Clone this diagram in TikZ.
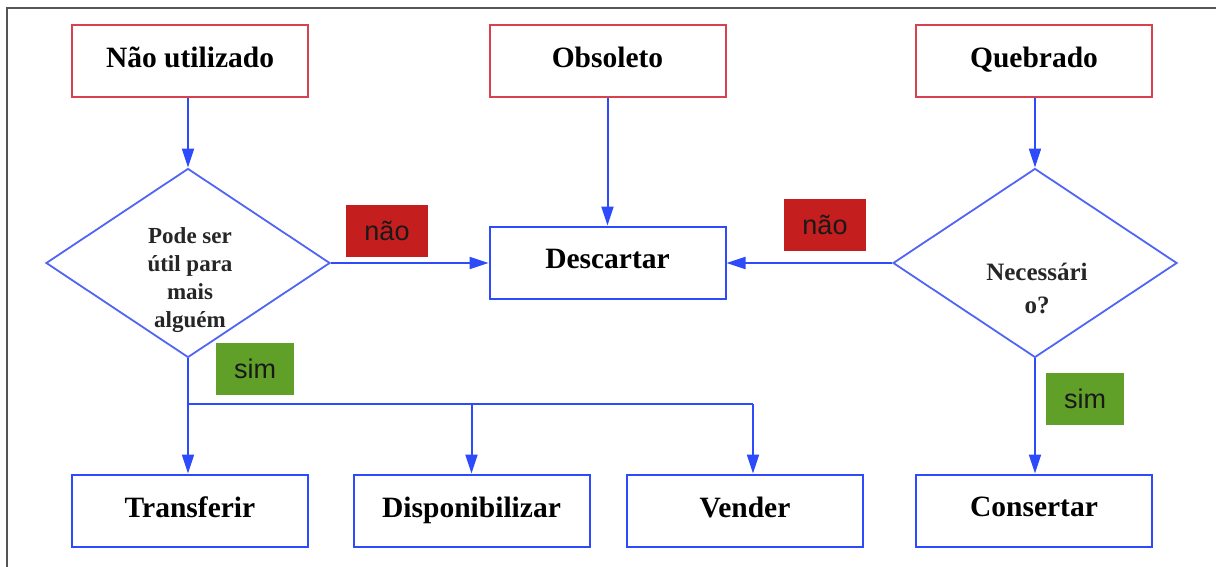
\documentclass[tikz,border=0pt]{standalone}
\usepackage{fontspec}
\setmainfont{Liberation Serif}
\newfontfamily\labsans{Liberation Sans}
\usetikzlibrary{shapes.geometric,arrows.meta}
\definecolor{lineblue}{RGB}{45,75,250}
\definecolor{diamblue}{RGB}{80,100,245}
\definecolor{boxred}{RGB}{215,65,80}
\definecolor{labred}{RGB}{196,30,30}
\definecolor{labgreen}{RGB}{96,160,40}
\definecolor{framegray}{RGB}{85,85,85}
\tikzset{
  x=1pt, y=-1pt,
  topbox/.style={draw=boxred, line width=2pt, minimum width=236pt, minimum height=72pt, inner sep=0pt,
    font=\fontsize{29.5}{35}\selectfont\bfseries},
  actbox/.style={draw=lineblue, line width=2pt, minimum width=236pt, minimum height=72pt, inner sep=0pt,
    font=\fontsize{29.5}{35}\selectfont\bfseries},
  decision/.style={diamond, draw=diamblue, line width=1.8pt, minimum width=284pt, minimum height=189pt, inner sep=0pt},
  dtext/.style={align=center, font=\fontsize{23}{28}\selectfont\bfseries, text=black!85},
  nolab/.style={fill=labred, minimum width=82pt, minimum height=52pt, inner sep=0pt,
    font=\labsans\fontsize{27}{30}\selectfont, text=black!90},
  yeslab/.style={fill=labgreen, minimum width=78pt, minimum height=52pt, inner sep=0pt,
    font=\labsans\fontsize{27}{30}\selectfont, text=black!90},
  conn/.style={draw=lineblue, line width=2pt},
  arr/.style={conn, -{Triangle[length=19pt,width=12pt]}}
}
\newcommand{\up}[1]{\raisebox{7pt}{#1}}
\begin{document}
\begin{tikzpicture}
\useasboundingbox (0,0) rectangle (1216,567);
\fill[white] (0,0) rectangle (1216,567);
\draw[framegray, line width=1.5pt] (1216,8) -- (7,8) -- (7,567);

% top boxes
\node[topbox] (nu) at (190,61) {\up{Não utilizado}};
\node[topbox] (ob) at (607.5,61) {\up{Obsoleto}};
\node[topbox] (qb) at (1034,61) {\up{Quebrado}};

% decisions
\node[decision] (d1) at (188,263) {};
\node[dtext] (d1t) at (190,280) {Pode ser\\útil para\\mais\\alguém};
\node[decision] (d2) at (1035,263) {};
\node[dtext, font=\fontsize{25}{33}\selectfont\bfseries] (d2t) at (1037,288) {Necessári\\o?};

% Descartar
\node[actbox] (desc) at (607.5,262.5) {\up{Descartar}};

% bottom boxes
\node[actbox] (tr) at (190,510.5) {\up{Transferir}};
\node[actbox] (disp) at (471.5,510.5) {\up{Disponibilizar}};
\node[actbox] (vend) at (745,510.5) {\up{Vender}};
\node[actbox] (cons) at (1034,510.5) {\up{Consertar}};

% labels
\node[nolab] (n1) at (387,231) {não};
\node[nolab] (n2) at (825,225) {não};
\node[yeslab] (s1) at (255,369) {sim};
\node[yeslab] (s2) at (1085,399) {sim};

% connectors
\coordinate (j) at (188,404);
\coordinate (jr) at (753,404);
\draw[arr] (nu.south -| d1.north) -- (d1.north);
\draw[arr] (ob.south) -- (desc.north);
\draw[arr] (qb.south -| d2.north) -- (d2.north);
\draw[arr] (d1.east) -- (desc.west |- d1.east);
\draw[arr] (d2.west) -- (desc.east |- d2.west);
\draw[arr] (d1.south) -- (d1.south |- tr.north);
\draw[conn] (j) -- (jr);
\draw[arr] (j -| disp.north) -- (disp.north);
\draw[arr] (jr) -- (jr |- vend.north);
\draw[arr] (d2.south) -- (d2.south |- cons.north);
\end{tikzpicture}
\end{document}
